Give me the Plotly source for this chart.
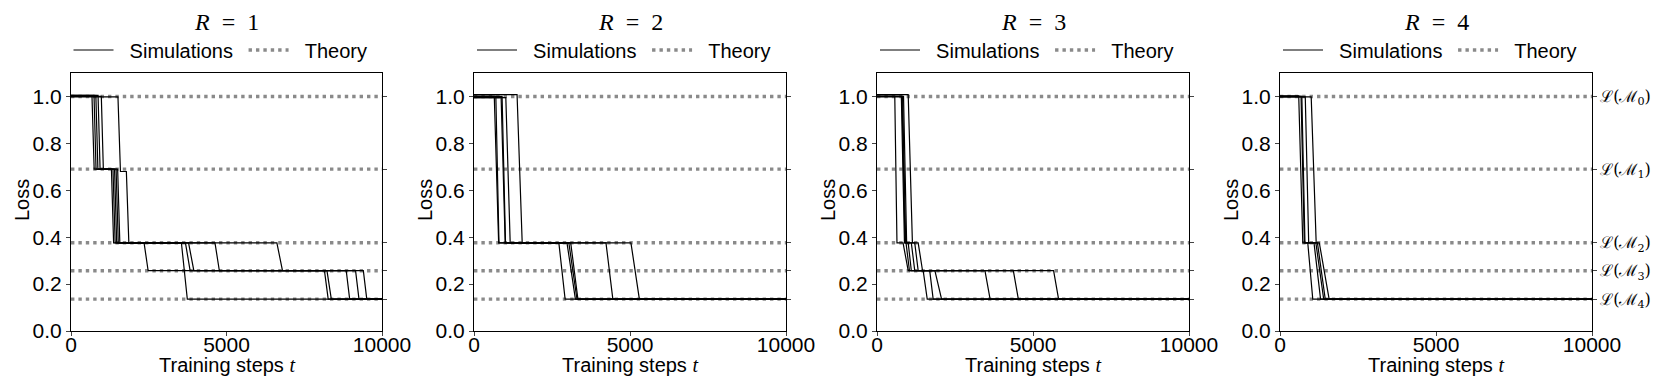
import plotly.graph_objects as go

# theory plateaus L(M_0) .. L(M_4)
theory_levels = [1.0, 0.69, 0.376, 0.257, 0.136]
theory_labels = ["ℒ(ℳ<sub>0</sub>)", "ℒ(ℳ<sub>1</sub>)", "ℒ(ℳ<sub>2</sub>)",
                 "ℒ(ℳ<sub>3</sub>)", "ℒ(ℳ<sub>4</sub>)"]

nb = "\u00a0"
panel_titles = [f"<i>R</i>{nb * 2}={nb * 2}{r}" for r in ["1", "2", "3", "4"]]
x_ticks = [0, 5000, 10000]
x_ticktext = ["0", "5000", "10000"]
y_ticks = [0.0, 0.2, 0.4, 0.6, 0.8, 1.0]

# simulation runs, corner points (step t, loss)
r1_t = [
    [0, 675, 745, 1300, 1370, 2350, 2480, 9400, 9510, 10000],
    [0, 740, 805, 1350, 1420, 3550, 3740, 10000],
    [0, 800, 865, 1400, 1470, 3680, 3830, 8150, 8270, 10000],
    [0, 870, 935, 1450, 1520, 3780, 3950, 8850, 8960, 10000],
    [0, 975, 1040, 1500, 1570, 4630, 4770, 8230, 8370, 10000],
    [0, 1510, 1590, 1780, 1860, 6620, 6800, 9150, 9260, 10000],
]
r1_loss = [
    [1.0, 1.0, 0.69, 0.69, 0.376, 0.376, 0.257, 0.257, 0.136, 0.136],
    [1.005, 1.005, 0.69, 0.69, 0.376, 0.376, 0.136, 0.136],
    [1.0, 1.0, 0.69, 0.69, 0.376, 0.376, 0.257, 0.257, 0.136, 0.136],
    [1.005, 1.005, 0.69, 0.69, 0.376, 0.376, 0.257, 0.257, 0.136, 0.136],
    [1.0, 1.0, 0.69, 0.69, 0.376, 0.376, 0.257, 0.257, 0.136, 0.136],
    [0.998, 0.998, 0.68, 0.68, 0.376, 0.376, 0.257, 0.257, 0.136, 0.136],
]

r2_t = [
    [0, 650, 790, 2720, 2920, 10000],
    [0, 700, 800, 2980, 3250, 10000],
    [0, 870, 1000, 3040, 3300, 10000],
    [0, 900, 1010, 3100, 3330, 10000],
    [0, 1020, 1160, 4230, 4450, 10000],
    [0, 1380, 1545, 5030, 5300, 10000],
]
r2_loss = [
    [1.0, 1.0, 0.376, 0.376, 0.136, 0.136],
    [1.0, 1.0, 0.376, 0.376, 0.136, 0.136],
    [0.995, 0.995, 0.376, 0.376, 0.136, 0.136],
    [1.0, 1.0, 0.376, 0.376, 0.136, 0.136],
    [0.995, 0.995, 0.376, 0.376, 0.136, 0.136],
    [1.008, 1.008, 0.376, 0.376, 0.136, 0.136],
]

r3_t = [
    [0, 570, 640, 835, 1000, 1480, 1610, 10000],
    [0, 780, 880, 930, 1040, 1690, 1800, 10000],
    [0, 800, 900, 1000, 1100, 1855, 2070, 10000],
    [0, 820, 920, 1100, 1210, 3460, 3625, 10000],
    [0, 850, 950, 1210, 1320, 4370, 4530, 10000],
    [0, 1000, 1135, 1320, 1460, 5660, 5820, 10000],
]
r3_loss = [
    [1.0, 1.0, 0.376, 0.376, 0.257, 0.257, 0.136, 0.136],
    [1.0, 1.0, 0.376, 0.376, 0.257, 0.257, 0.136, 0.136],
    [1.0, 1.0, 0.376, 0.376, 0.257, 0.257, 0.136, 0.136],
    [0.998, 0.998, 0.376, 0.376, 0.257, 0.257, 0.136, 0.136],
    [1.0, 1.0, 0.376, 0.376, 0.257, 0.257, 0.136, 0.136],
    [1.008, 1.008, 0.376, 0.376, 0.257, 0.257, 0.136, 0.136],
]

r4_t = [
    [0, 600, 730, 890, 1050, 10000],
    [0, 675, 780, 1090, 1300, 10000],
    [0, 700, 800, 1150, 1400, 10000],
    [0, 810, 920, 1200, 1450, 10000],
    [0, 1000, 1160, 1260, 1575, 10000],
]
r4_loss = [
    [1.003, 1.003, 0.376, 0.376, 0.136, 0.136],
    [1.0, 1.0, 0.376, 0.376, 0.136, 0.136],
    [1.0, 1.0, 0.376, 0.376, 0.136, 0.136],
    [0.998, 0.998, 0.376, 0.376, 0.136, 0.136],
    [0.998, 0.998, 0.376, 0.376, 0.136, 0.136],
]

all_t = [r1_t, r2_t, r3_t, r4_t]
all_loss = [r1_loss, r2_loss, r3_loss, r4_loss]

W, H = 1660, 380
x_px = [(63, 374), (466, 778), (869, 1181), (1272, 1584)]
y_dom = [1 - 323 / H, 1 - 65 / H]

sans = "Liberation Sans, Arial, sans-serif"
serif = "DejaVu Serif, Liberation Serif, serif"

fig = go.Figure()
layout = {}

for k in range(4):
    n = k + 1
    xa = "x" if n == 1 else f"x{n}"
    ya = "y" if n == 1 else f"y{n}"
    ya_r = f"y{n + 4}"
    leg = "legend" if n == 1 else f"legend{n}"

    # theory lines (drawn under the simulations)
    for j, lev in enumerate(theory_levels):
        fig.add_trace(go.Scatter(
            x=[x_ticks[0], x_ticks[-1]], y=[lev, lev], mode="lines",
            line=dict(color="#8a8a8a", width=3.4, dash="3.4px,4px"),
            name=nb * 2 + "Theory", legend=leg, showlegend=(j == 0), legendrank=2,
            xaxis=xa, yaxis=ya, hoverinfo="skip",
        ))

    # simulations on the overlaying right axis so they sit on top
    for j, (t, loss) in enumerate(zip(all_t[k], all_loss[k])):
        fig.add_trace(go.Scatter(
            x=t, y=loss, mode="lines",
            line=dict(color="black", width=1.2),
            name=nb * 2 + "Simulations" + nb, legend=leg, showlegend=(j == 0),
            legendrank=1, xaxis=xa, yaxis=ya_r, hoverinfo="skip",
        ))

    x0, x1 = x_px[k]
    layout["xaxis" if n == 1 else f"xaxis{n}"] = dict(
        domain=[x0 / W, x1 / W], anchor=ya, range=[0, 10000],
        tickvals=x_ticks, ticktext=x_ticktext, ticks="outside", ticklen=4, tickwidth=1.2,
        showline=True, linecolor="black", linewidth=1.2, mirror=True,
        showgrid=False, zeroline=False, automargin=False, ticklabelstandoff=-9,
        tickfont=dict(family=sans, size=21, color="black"),
    )
    layout["yaxis" if n == 1 else f"yaxis{n}"] = dict(
        domain=y_dom, anchor=xa, range=[0, 1.1],
        tickvals=y_ticks, tickformat=".1f", ticks="outside", ticklen=4, tickwidth=1.2,
        showline=True, linecolor="black", linewidth=1.2, mirror=True,
        showgrid=False, zeroline=False, automargin=False,
        tickfont=dict(family=sans, size=21, color="black"),
    )
    layout[f"yaxis{n + 4}"] = dict(
        overlaying=ya, anchor=xa, side="right", range=[0, 1.1],
        tickvals=theory_levels, ticktext=theory_labels,
        showticklabels=(n == 4), ticks="outside", ticklen=4, tickwidth=1.2,
        tickcolor="#444", showline=False, showgrid=False, zeroline=False,
        automargin=False,
        tickfont=dict(family=serif, size=16, color="black"),
    )
    layout[leg] = dict(
        orientation="h", x=(x0 + x1 - 12) / 2 / W, y=1 - 42 / H,
        xanchor="center", yanchor="middle", bgcolor="rgba(0,0,0,0)",
        font=dict(family=sans, size=20, color="black"),
        itemwidth=40, traceorder="normal",
    )
    fig.add_annotation(
        text=panel_titles[k], x=(x0 + x1) / 2 / W, y=1 - 14 / H,
        xref="paper", yref="paper", xanchor="center", yanchor="middle",
        showarrow=False, font=dict(family="Liberation Serif, serif", size=24, color="black"),
    )
    fig.add_annotation(
        text='Training steps <span style="font-family:Liberation Serif"><i>t</i></span>',
        x=(x0 + x1) / 2 / W, y=1 - 357 / H,
        xref="paper", yref="paper", xanchor="center", yanchor="middle",
        showarrow=False, font=dict(family=sans, size=20, color="black"),
    )
    fig.add_annotation(
        text="Loss", textangle=-90, x=(x0 - 49) / W, y=1 - 192 / H,
        xref="paper", yref="paper", xanchor="center", yanchor="middle",
        showarrow=False, font=dict(family=sans, size=20, color="black"),
    )

fig.update_layout(
    width=W, height=H, margin=dict(l=0, r=0, t=0, b=0),
    paper_bgcolor="white", plot_bgcolor="white", template="none",
    **layout,
)

fig.write_html("out.html")
